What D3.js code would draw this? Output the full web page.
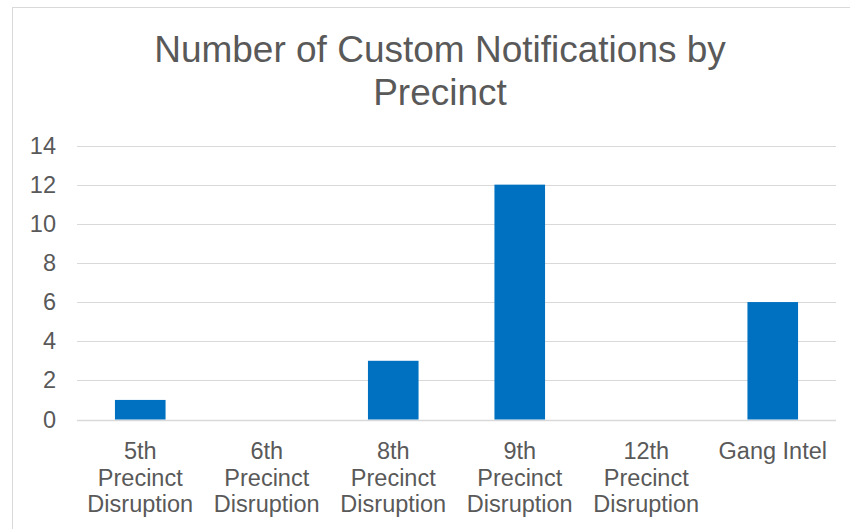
<!DOCTYPE html>
<html>
<head>
<meta charset="utf-8">
<script src="https://cdn.jsdelivr.net/npm/d3@7"></script>
<style>
    body { margin: 0; background: #fff; }
    svg { display: block; font-family: "Liberation Sans", Arial, sans-serif; }
</style>
</head>
<body>
<div id="chart"></div>
<script>
// chart data
const categories = ["5th Precinct Disruption", "6th Precinct Disruption", "8th Precinct Disruption",
                    "9th Precinct Disruption", "12th Precinct Disruption", "Gang Intel"];
const notifications = [1, 0, 3, 12, 0, 6];
const yTicks = [0, 2, 4, 6, 8, 10, 12, 14];
const titleLines = ["Number of Custom Notifications by", "Precinct"];

const width = 850;
const height = 529;
const plot = { left: 77, right: 836, top: 145.5, bottom: 419.5 };

const svg = d3.select("#chart")
    .append("svg")
    .attr("width", width)
    .attr("height", height);

// chart area border
svg.append("rect")
    .attr("x", 12.5)
    .attr("y", 7.5)
    .attr("width", 860)
    .attr("height", 540)
    .attr("fill", "#fff")
    .attr("stroke", "#d9d9d9");

// title
svg.append("text")
    .attr("text-anchor", "middle")
    .attr("fill", "#595959")
    .style("font-size", "37px")
    .selectAll("tspan")
    .data(titleLines)
    .enter().append("tspan")
    .attr("x", 440)
    .attr("y", (d, i) => 62 + i * 43)
    .text(d => d);

const x = d3.scaleBand()
    .domain(categories)
    .range([plot.left, plot.right])
    .paddingInner(0.6)
    .paddingOuter(0.3);

const y = d3.scaleLinear()
    .domain([0, 14])
    .range([plot.bottom, plot.top]);

// gridlines
svg.append("g")
    .selectAll("line")
    .data(yTicks)
    .enter().append("line")
    .attr("x1", plot.left)
    .attr("x2", plot.right)
    .attr("y1", d => Math.round(y(d)) + 0.5)
    .attr("y2", d => Math.round(y(d)) + 0.5)
    .attr("stroke", "#d9d9d9")
    .attr("stroke-width", d => d === 0 ? 1.5 : 1);

// y axis labels
const yAxis = svg.append("g")
    .attr("transform", `translate(${plot.left - 21},0)`)
    .call(d3.axisLeft(y).tickValues(yTicks).tickSize(0).tickPadding(0));
yAxis.select(".domain").remove();
yAxis.selectAll("text")
    .attr("fill", "#595959")
    .style("font-size", "23.5px")
    .style("font-family", "'Liberation Sans', Arial, sans-serif");

// bars
svg.append("g")
    .selectAll("rect")
    .data(notifications)
    .enter().append("rect")
    .attr("x", (d, i) => x(categories[i]))
    .attr("width", x.bandwidth())
    .attr("y", d => y(d))
    .attr("height", d => y(0) - y(d))
    .attr("fill", "#0070c0");

// x axis labels, wrapped to the category width
const xAxis = svg.append("g")
    .attr("transform", `translate(0,${plot.bottom})`)
    .call(d3.axisBottom(x).tickSize(0).tickPadding(0));
xAxis.select(".domain").remove();
xAxis.selectAll("text")
    .attr("fill", "#595959")
    .style("font-size", "23.5px")
    .style("font-family", "'Liberation Sans', Arial, sans-serif")
    .call(wrap, x.step() - 4);

function wrap(texts, maxWidth) {
    texts.each(function() {
        const text = d3.select(this);
        const words = text.text().split(" ");
        text.text(null).attr("dy", null);
        let line = [];
        let lineNo = 0;
        let tspan = text.append("tspan").attr("x", 0).attr("y", 39.5);
        words.forEach(w => {
            line.push(w);
            tspan.text(line.join(" "));
            if (tspan.node().getComputedTextLength() > maxWidth && line.length > 1) {
                line.pop();
                tspan.text(line.join(" "));
                line = [w];
                lineNo++;
                tspan = text.append("tspan").attr("x", 0).attr("y", 39.5 + lineNo * 26.5).text(w);
            }
        });
    });
}
</script>
</body>
</html>
